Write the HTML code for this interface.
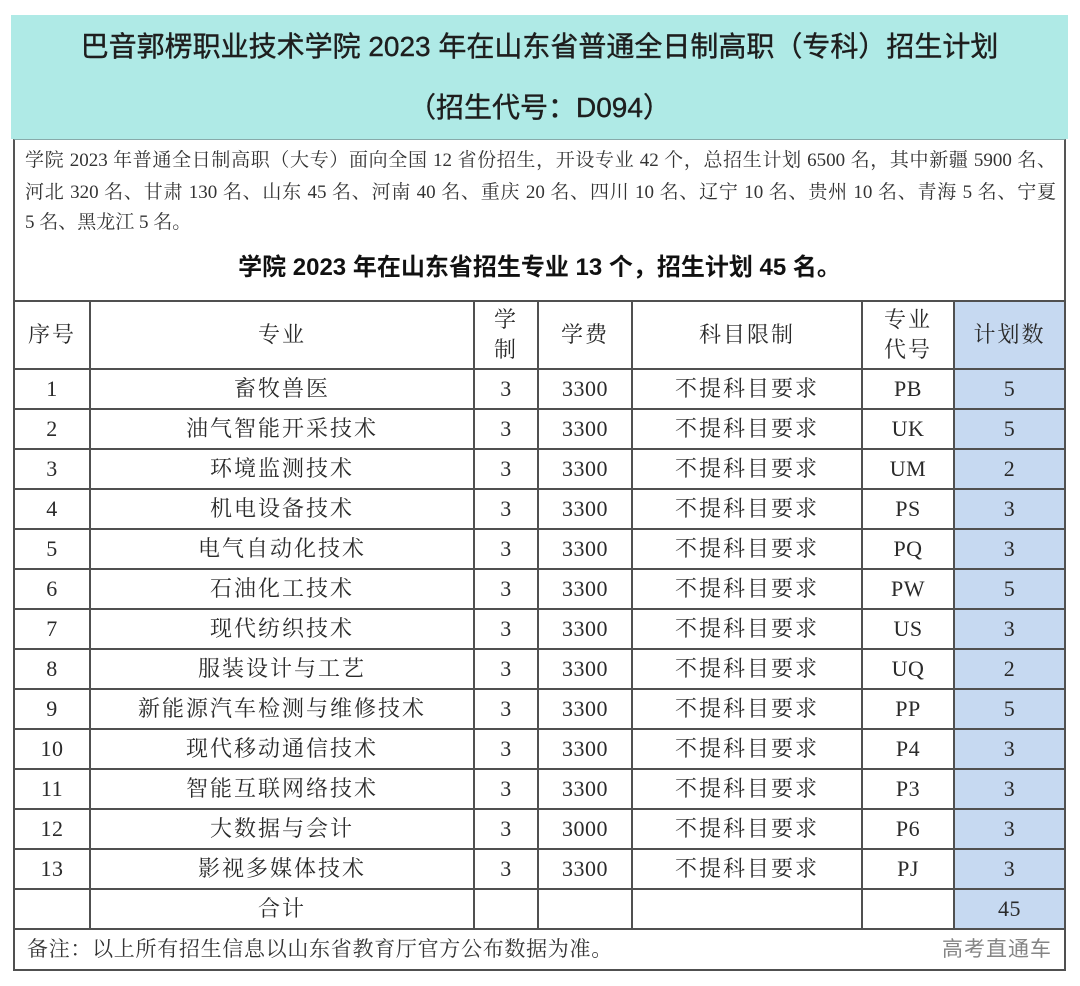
<!DOCTYPE html>
<html>
<head>
<meta charset="utf-8">
<style>
*{margin:0;padding:0;box-sizing:border-box;}
html,body{width:1080px;height:986px;background:#fff;overflow:hidden;}
body{position:relative;font-family:"Liberation Serif","Noto Serif CJK SC",serif;color:#2a2a2a;}
.teal{position:absolute;left:11px;top:15px;width:1057px;height:124px;background:#afeae6;}
.t1{position:absolute;left:11px;width:1057px;text-align:center;font-family:"Liberation Sans","Noto Sans CJK SC",sans-serif;font-size:28px;font-weight:400;-webkit-text-stroke:0.4px #1e1e1e;color:#1e1e1e;line-height:40px;white-space:nowrap;}
.box{position:absolute;left:13px;top:139px;width:1053px;height:162px;border-left:2px solid #555;border-right:2px solid #555;border-top:1px solid #8aa;}
.il{position:absolute;left:25px;width:1031px;font-size:19px;line-height:30px;letter-spacing:0px;color:#333;white-space:nowrap;}
.j{text-align:justify;text-align-last:justify;white-space:normal;height:30px;overflow:hidden;}
.sub{position:absolute;left:13px;width:1053px;top:252px;text-align:center;font-family:"Liberation Sans","Noto Sans CJK SC",sans-serif;font-weight:bold;font-size:24px;line-height:32px;color:#111;}
.tbl{position:absolute;left:13px;top:300px;width:1053px;border-left:2px solid #505050;border-top:2px solid #505050;}
.r{display:flex;}
.c{box-sizing:border-box;border-right:2px solid #505050;border-bottom:2px solid #505050;display:flex;align-items:center;justify-content:center;text-align:center;font-size:22px;letter-spacing:2px;color:#2a2a2a;line-height:30px;}
.c.n{letter-spacing:0.5px;}
.w1{width:76px}.w2{width:384px}.w3{width:64px}.w4{width:94px}.w5{width:230px}.w6{width:92px}.w7{width:111px;background:#c6d9f1;}
.h{height:68px;}
.b{height:40px;}
.f{height:41px;width:1051px;border-right:2px solid #505050;border-bottom:2px solid #505050;position:relative;}
.fl{position:absolute;left:12px;top:0;line-height:39px;font-size:21px;color:#333;letter-spacing:0.7px;}
.fr{position:absolute;right:12px;top:0;line-height:39px;font-size:21px;color:#858585;font-family:"Liberation Sans","Noto Sans CJK SC",sans-serif;letter-spacing:1px;}
</style>
</head>
<body>
<div class="teal"></div>
<div class="t1" style="top:27px;">巴音郭楞职业技术学院 2023 年在山东省普通全日制高职（专科）招生计划</div>
<div class="t1" style="top:88px;">（招生代号：D094）</div>
<div class="box"></div>
<div class="il j" style="top:146px;">学院 2023 年普通全日制高职（大专）面向全国 12 省份招生，开设专业 42 个，总招生计划 6500 名，其中新疆 5900 名、</div>
<div class="il j" style="top:178px;">河北 320 名、甘肃 130 名、山东 45 名、河南 40 名、重庆 20 名、四川 10 名、辽宁 10 名、贵州 10 名、青海 5 名、宁夏</div>
<div class="il" style="top:208px;">5 名、黑龙江 5 名。</div>
<div class="sub">学院 2023 年在山东省招生专业 13 个，招生计划 45 名。</div>

<div class="tbl">
 <div class="r">
  <div class="c h w1">序号</div>
  <div class="c h w2">专业</div>
  <div class="c h w3">学<br>制</div>
  <div class="c h w4">学费</div>
  <div class="c h w5">科目限制</div>
  <div class="c h w6">专业<br>代号</div>
  <div class="c h w7">计划数</div>
 </div>
 <div class="r"><div class="c b w1 n">1</div><div class="c b w2">畜牧兽医</div><div class="c b w3 n">3</div><div class="c b w4 n">3300</div><div class="c b w5">不提科目要求</div><div class="c b w6 n">PB</div><div class="c b w7 n">5</div></div>
 <div class="r"><div class="c b w1 n">2</div><div class="c b w2">油气智能开采技术</div><div class="c b w3 n">3</div><div class="c b w4 n">3300</div><div class="c b w5">不提科目要求</div><div class="c b w6 n">UK</div><div class="c b w7 n">5</div></div>
 <div class="r"><div class="c b w1 n">3</div><div class="c b w2">环境监测技术</div><div class="c b w3 n">3</div><div class="c b w4 n">3300</div><div class="c b w5">不提科目要求</div><div class="c b w6 n">UM</div><div class="c b w7 n">2</div></div>
 <div class="r"><div class="c b w1 n">4</div><div class="c b w2">机电设备技术</div><div class="c b w3 n">3</div><div class="c b w4 n">3300</div><div class="c b w5">不提科目要求</div><div class="c b w6 n">PS</div><div class="c b w7 n">3</div></div>
 <div class="r"><div class="c b w1 n">5</div><div class="c b w2">电气自动化技术</div><div class="c b w3 n">3</div><div class="c b w4 n">3300</div><div class="c b w5">不提科目要求</div><div class="c b w6 n">PQ</div><div class="c b w7 n">3</div></div>
 <div class="r"><div class="c b w1 n">6</div><div class="c b w2">石油化工技术</div><div class="c b w3 n">3</div><div class="c b w4 n">3300</div><div class="c b w5">不提科目要求</div><div class="c b w6 n">PW</div><div class="c b w7 n">5</div></div>
 <div class="r"><div class="c b w1 n">7</div><div class="c b w2">现代纺织技术</div><div class="c b w3 n">3</div><div class="c b w4 n">3300</div><div class="c b w5">不提科目要求</div><div class="c b w6 n">US</div><div class="c b w7 n">3</div></div>
 <div class="r"><div class="c b w1 n">8</div><div class="c b w2">服装设计与工艺</div><div class="c b w3 n">3</div><div class="c b w4 n">3300</div><div class="c b w5">不提科目要求</div><div class="c b w6 n">UQ</div><div class="c b w7 n">2</div></div>
 <div class="r"><div class="c b w1 n">9</div><div class="c b w2">新能源汽车检测与维修技术</div><div class="c b w3 n">3</div><div class="c b w4 n">3300</div><div class="c b w5">不提科目要求</div><div class="c b w6 n">PP</div><div class="c b w7 n">5</div></div>
 <div class="r"><div class="c b w1 n">10</div><div class="c b w2">现代移动通信技术</div><div class="c b w3 n">3</div><div class="c b w4 n">3300</div><div class="c b w5">不提科目要求</div><div class="c b w6 n">P4</div><div class="c b w7 n">3</div></div>
 <div class="r"><div class="c b w1 n">11</div><div class="c b w2">智能互联网络技术</div><div class="c b w3 n">3</div><div class="c b w4 n">3300</div><div class="c b w5">不提科目要求</div><div class="c b w6 n">P3</div><div class="c b w7 n">3</div></div>
 <div class="r"><div class="c b w1 n">12</div><div class="c b w2">大数据与会计</div><div class="c b w3 n">3</div><div class="c b w4 n">3000</div><div class="c b w5">不提科目要求</div><div class="c b w6 n">P6</div><div class="c b w7 n">3</div></div>
 <div class="r"><div class="c b w1 n">13</div><div class="c b w2">影视多媒体技术</div><div class="c b w3 n">3</div><div class="c b w4 n">3300</div><div class="c b w5">不提科目要求</div><div class="c b w6 n">PJ</div><div class="c b w7 n">3</div></div>
 <div class="r"><div class="c b w1"></div><div class="c b w2">合计</div><div class="c b w3"></div><div class="c b w4"></div><div class="c b w5"></div><div class="c b w6"></div><div class="c b w7 n">45</div></div>
 <div class="f">
  <div class="fl">备注：以上所有招生信息以山东省教育厅官方公布数据为准。</div>
  <div class="fr">高考直通车</div>
 </div>
</div>
</body>
</html>
